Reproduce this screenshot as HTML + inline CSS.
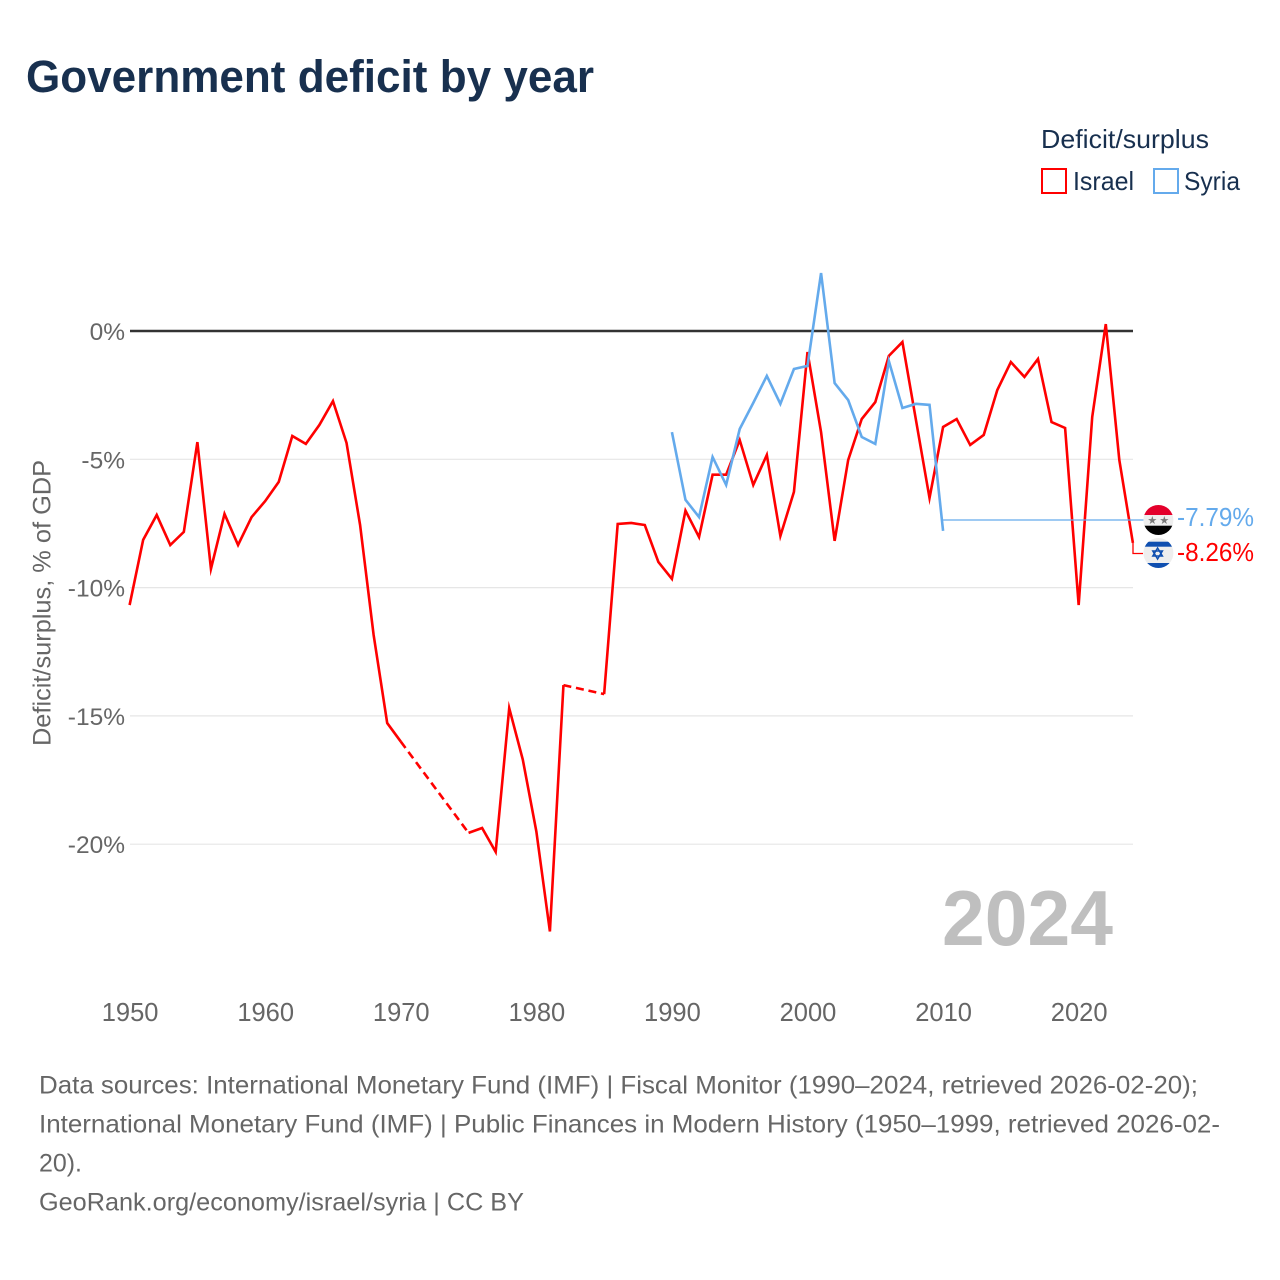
<!DOCTYPE html>
<html lang="en">
<head>
<meta charset="utf-8">
<title>Government deficit by year</title>
<style>
html,body{margin:0;padding:0;background:#fff;width:1280px;height:1280px;overflow:hidden}
svg{display:block}
text{font-family:"Liberation Sans",sans-serif}
</style>
</head>
<body>
<svg id="chart" xmlns="http://www.w3.org/2000/svg" width="1280" height="1280" viewBox="0 0 1280 1280">
  <defs>
    <clipPath id="flag-clip-syria"><circle cx="1158.4" cy="520" r="15"/></clipPath>
    <clipPath id="flag-clip-israel"><circle cx="1158.4" cy="553" r="15"/></clipPath>
  </defs>
  <rect x="0" y="0" width="1280" height="1280" fill="#fff"/>
  <text x="26" y="92" font-size="45" font-weight="700" fill="#18304f" textLength="568" lengthAdjust="spacingAndGlyphs">Government deficit by year</text>

  <g>
    <text x="1041" y="148" font-size="26" fill="#18304f" textLength="168" lengthAdjust="spacingAndGlyphs">Deficit/surplus</text>
    <g>
      <rect x="1042" y="169" width="24" height="24" fill="none" stroke="#ff0000" stroke-width="2"/>
      <text x="1073" y="190" font-size="26" fill="#18304f" textLength="61" lengthAdjust="spacingAndGlyphs">Israel</text>
    </g>
    <g>
      <rect x="1154" y="169" width="24" height="24" fill="none" stroke="#64aaec" stroke-width="2"/>
      <text x="1184" y="190" font-size="26" fill="#18304f" textLength="56" lengthAdjust="spacingAndGlyphs">Syria</text>
    </g>
  </g>

  <text transform="translate(50.5,603) rotate(-90)" text-anchor="middle" font-size="25" fill="#666" textLength="286" lengthAdjust="spacingAndGlyphs">Deficit/surplus, % of GDP</text>

  <g id="grid"></g>
  <g id="yticks"></g>
  <g id="xticks"></g>

  <text x="942" y="945" font-size="78" font-weight="700" fill="#bfbfbf" textLength="171" lengthAdjust="spacingAndGlyphs">2024</text>

  <g id="series"></g>
  <g id="end-labels"></g>

  <g>
    <g clip-path="url(#flag-clip-syria)">
      <rect x="1143" y="504" width="31" height="11" fill="#e4002b"/>
      <rect x="1143" y="515" width="31" height="10.7" fill="#eeeeee"/>
      <rect x="1143" y="525.7" width="31" height="11" fill="#000"/>
    </g>
    <text x="1152.3" y="524" font-size="11" fill="#777" text-anchor="middle">★</text>
    <text x="1164.3" y="524" font-size="11" fill="#777" text-anchor="middle">★</text>
  </g>
  <g>
    <g clip-path="url(#flag-clip-israel)">
      <rect x="1143" y="538" width="31" height="30" fill="#eeeeee"/>
      <rect x="1143" y="541.7" width="31" height="5" fill="#0f4fb0"/>
      <rect x="1143" y="563" width="31" height="5" fill="#0f4fb0"/>
    </g>
    <polygon points="1157.6,548 1162.4,556 1152.8,556" fill="none" stroke="#0f4fb0" stroke-width="1.5"/>
    <polygon points="1157.6,559 1162.4,551 1152.8,551" fill="none" stroke="#0f4fb0" stroke-width="1.5"/>
  </g>

  <g font-size="25" fill="#666">
    <text x="39" y="1093.5" textLength="1159" lengthAdjust="spacingAndGlyphs">Data sources: International Monetary Fund (IMF) | Fiscal Monitor (1990–2024, retrieved 2026-02-20);</text>
    <text x="39" y="1132.5" textLength="1181" lengthAdjust="spacingAndGlyphs">International Monetary Fund (IMF) | Public Finances in Modern History (1950–1999, retrieved 2026-02-</text>
    <text x="39" y="1171.5" textLength="43" lengthAdjust="spacingAndGlyphs">20).</text>
    <text x="39" y="1210.5" textLength="485" lengthAdjust="spacingAndGlyphs">GeoRank.org/economy/israel/syria | CC BY</text>
  </g>
</svg>
<script>
const years = [1950,1951,1952,1953,1954,1955,1956,1957,1958,1959,1960,1961,1962,1963,1964,1965,1966,1967,1968,1969,1970,1971,1972,1973,1974,1975,1976,1977,1978,1979,1980,1981,1982,1983,1984,1985,1986,1987,1988,1989,1990,1991,1992,1993,1994,1995,1996,1997,1998,1999,2000,2001,2002,2003,2004,2005,2006,2007,2008,2009,2010,2011,2012,2013,2014,2015,2016,2017,2018,2019,2020,2021,2022,2023,2024];
const israelValues = [-10.68,-8.14,-7.17,-8.34,-7.83,-4.33,-9.27,-7.13,-8.34,-7.25,-6.63,-5.88,-4.09,-4.40,-3.66,-2.73,-4.36,-7.56,-11.85,-15.28,-16.0,null,null,null,null,-19.56,-19.37,-20.3,-14.7,-16.7,-19.5,-23.4,-13.8,null,null,-14.15,-7.52,-7.48,-7.56,-9.0,-9.66,-7.0,-8.03,-5.6,-5.6,-4.25,-6.0,-4.83,-7.99,-6.27,-0.82,-3.94,-8.18,-5.03,-3.43,-2.77,-0.97,-0.43,-3.47,-6.51,-3.74,-3.43,-4.44,-4.05,-2.3,-1.21,-1.79,-1.09,-3.55,-3.78,-10.68,-3.35,0.27,-5.03,-8.26];
const syriaYears = [1990,1991,1992,1993,1994,1995,1996,1997,1998,1999,2000,2001,2002,2003,2004,2005,2006,2007,2008,2009,2010];
const syriaValues = [-3.94,-6.58,-7.25,-4.91,-6.0,-3.82,-2.8,-1.75,-2.84,-1.48,-1.36,2.26,-2.03,-2.69,-4.13,-4.40,-1.17,-3.0,-2.84,-2.88,-7.79];
const xTickYears = [1950,1960,1970,1980,1990,2000,2010,2020];
const yTickValues = [0,-5,-10,-15,-20];
const israelEndLabel = "-8.26%";
const syriaEndLabel = "-7.79%";

const SVGNS = "http://www.w3.org/2000/svg";
const xScale = function (year) { return 129.6 + (year - 1950) * 13.558; };
const yScale = function (value) { return 331 - value * 25.66; };
const ISRAEL_COLOR = "#ff0000";
const SYRIA_COLOR = "#64aaec";

function make(tag, parent, attrs, text) {
  const el = document.createElementNS(SVGNS, tag);
  Object.keys(attrs).forEach(function (k) { el.setAttribute(k, attrs[k]); });
  if (text !== undefined) { el.textContent = text; }
  parent.appendChild(el);
  return el;
}

const gridGroup = document.getElementById("grid");
const yTickGroup = document.getElementById("yticks");
const xTickGroup = document.getElementById("xticks");
const seriesGroup = document.getElementById("series");
const endGroup = document.getElementById("end-labels");

yTickValues.forEach(function (v) {
  const y = yScale(v);
  if (v !== 0) {
    const line = make("line", gridGroup, { x1: 130, x2: 1133, y1: y, y2: y, stroke: "#e6e6e6", "stroke-width": 1.2 });
    
    
  }
  const label = make("text", yTickGroup, { x: 125, y: y + 9, "text-anchor": "end", "font-size": 24.5, fill: "#666" }, v + "%");
  
  
});

xTickYears.forEach(function (yr) {
  const label = make("text", xTickGroup, { x: xScale(yr) + 0.5, y: 1021, "text-anchor": "middle", "font-size": 25.5, fill: "#666" }, String(yr));
  
  
});

function drawSeries(name, xs, vs, color) {
  const g = make("g", seriesGroup, {});
  
  
  let solid = "";
  let dashed = "";
  let prev = null;
  let prevAdjacent = false;
  for (let i = 0; i < xs.length; i++) {
    if (vs[i] === null) { prevAdjacent = false; continue; }
    const p = xScale(xs[i]).toFixed(2) + " " + yScale(vs[i]).toFixed(2);
    if (prev === null) {
      solid += "M" + p;
    } else if (prevAdjacent) {
      solid += "L" + p;
    } else {
      dashed += "M" + prev + "L" + p;
      solid += "M" + p;
    }
    prev = p;
    prevAdjacent = true;
  }
  const solidPath = make("path", g, { d: solid, fill: "none", stroke: color, "stroke-width": 2.6, "stroke-linejoin": "miter", "stroke-miterlimit": 6 });
  
  
  if (dashed) {
    const dashPath = make("path", g, { d: dashed, fill: "none", stroke: color, "stroke-width": 2.6, "stroke-dasharray": "8 4.8" });
    
    
  }
}

drawSeries("israel", years, israelValues, ISRAEL_COLOR);
drawSeries("syria", syriaYears, syriaValues, SYRIA_COLOR);

const zeroLine = make("line", gridGroup, { x1: 130, x2: 1133, y1: yScale(0), y2: yScale(0), stroke: "#333", "stroke-width": 2.6 });



const lastSyriaX = xScale(syriaYears[syriaYears.length - 1]);
const syriaConnector = make("path", endGroup, { d: "M" + lastSyriaX + " 520H1145", fill: "none", stroke: SYRIA_COLOR, "stroke-width": 1.3 });


const lastIsraelY = yScale(israelValues[israelValues.length - 1]);
const israelConnector = make("path", endGroup, { d: "M1133 " + lastIsraelY + "V553.5H1143", fill: "none", stroke: ISRAEL_COLOR, "stroke-width": 1.3 });



const syriaLabel = make("text", endGroup, { x: 1177, y: 526, "font-size": 26, fill: SYRIA_COLOR, textLength: 77, lengthAdjust: "spacingAndGlyphs" }, syriaEndLabel);


const israelLabel = make("text", endGroup, { x: 1177, y: 561, "font-size": 26, fill: ISRAEL_COLOR, textLength: 77, lengthAdjust: "spacingAndGlyphs" }, israelEndLabel);


</script>
</body>
</html>
